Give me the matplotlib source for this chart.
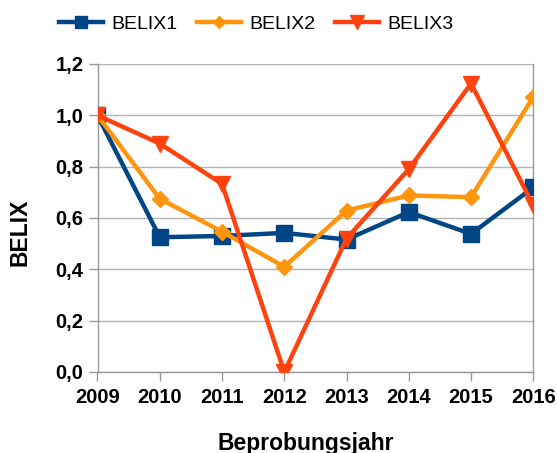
import matplotlib
matplotlib.use("Agg")
import matplotlib.pyplot as plt
from matplotlib.ticker import FuncFormatter

years = [2009, 2010, 2011, 2012, 2013, 2014, 2015, 2016]
belix1 = [1.0, 0.525, 0.53, 0.542, 0.516, 0.623, 0.538, 0.719]
belix2 = [1.0, 0.675, 0.547, 0.41, 0.629, 0.688, 0.681, 1.072]
belix3 = [1.0, 0.89, 0.733, 0.0, 0.52, 0.79, 1.124, 0.649]
series_names = ["BELIX1", "BELIX2", "BELIX3"]
y_ticks = [0.0, 0.2, 0.4, 0.6, 0.8, 1.0, 1.2]

plt.rcParams['font.family'] = ['Liberation Sans', 'DejaVu Sans']

W, H = 557, 453
fig = plt.figure(figsize=(W/100, H/100), dpi=100)
ax = fig.add_axes([97.5/W, 1-372/H, (533.3-97.5)/W, (372-64)/H])

ax.plot(years, belix1, color='#004586', lw=3.2, marker='s', ms=11, label=series_names[0], zorder=3)
ax.plot(years, belix2, color='#ff950e', lw=3.2, marker='D', ms=8, label=series_names[1], zorder=4)
ax.plot(years, belix3, color='#ff420e', lw=3.2, marker='v', ms=12, label=series_names[2], zorder=5)

ax.set_xlim(2009, 2016)
ax.set_ylim(0, 1.2)
ax.set_yticks(y_ticks)
ax.set_xticks(years)
ax.yaxis.set_major_formatter(FuncFormatter(lambda v, p: f"{v:.1f}".replace('.', ',')))
ax.grid(axis='y', color='#b3b3b3', lw=1.0)
ax.set_axisbelow(True)
for s in ['left', 'bottom', 'right']:
    ax.spines[s].set_color('#999999')
    ax.spines[s].set_linewidth(1.0)
ax.spines['top'].set_visible(False)
ax.tick_params(direction='out', length=6.5, width=1, color='#999999')
ax.tick_params(axis='x', pad=5)
ax.tick_params(axis='y', pad=3.5)
for lab in ax.get_xticklabels() + ax.get_yticklabels():
    lab.set_fontsize(14.5)
    lab.set_fontweight('bold')
    lab.set_clip_on(False)

fig.text(305.8/W, 1-450/H, "Beprobungsjahr", fontsize=16.5, fontweight='bold',
         ha='center', va='baseline')
fig.text(20/W, 1-232/H, "BELIX", fontsize=16.5, fontweight='bold',
         ha='center', va='center', rotation=90)

leg = fig.legend(loc='center', bbox_to_anchor=(256/W, 1-24/H), ncol=3, frameon=False,
                 fontsize=14, handlelength=2.3, columnspacing=1.0, handletextpad=0.4)
for h in leg.legend_handles:
    h.set_markersize(h.get_markersize()*0.8)

fig.savefig("out.png", dpi=100)
